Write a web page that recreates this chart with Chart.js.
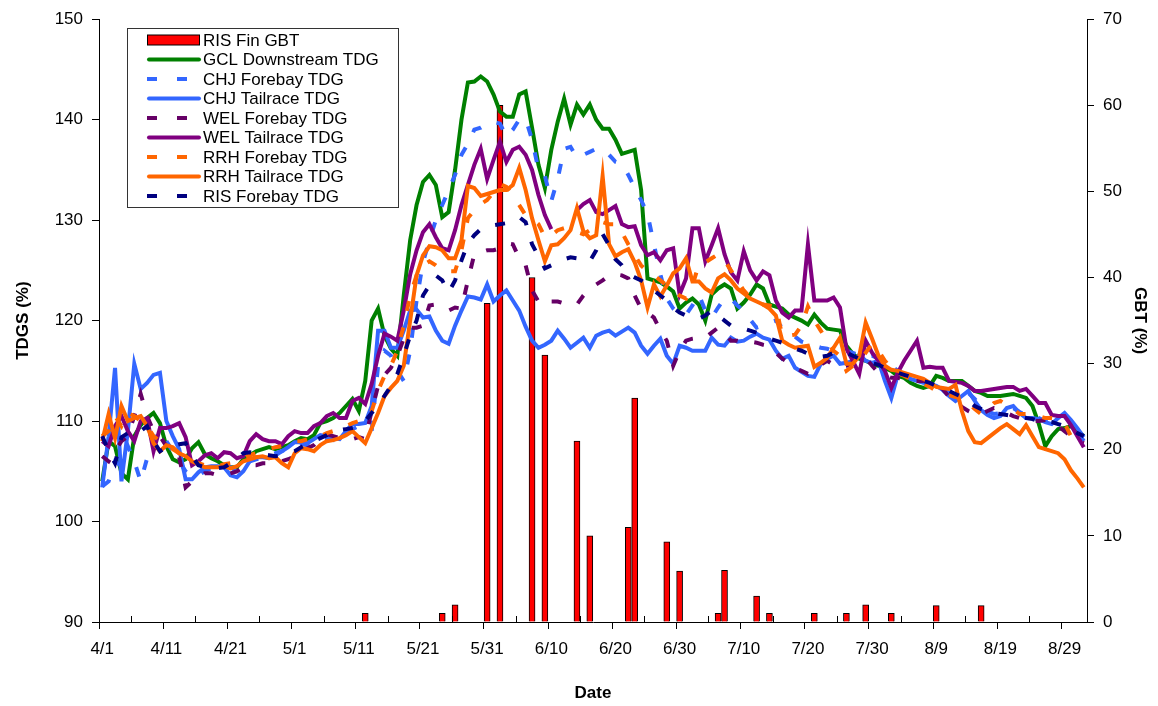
<!DOCTYPE html>
<html>
<head>
<meta charset="utf-8">
<script src="https://cdn.jsdelivr.net/npm/chart.js@4.4.1/dist/chart.umd.min.js"></script>
<style>
  html, body { margin: 0; padding: 0; background: #fff; }
  #wrap { position: relative; width: 1158px; height: 706px; }
</style>
</head>
<body>
<div id="wrap"><canvas id="chart" width="1158" height="706"></canvas></div>
<script>
// daily categories 4/1 .. 9/1
const days = [];
for (let i = 0; i < 154; i++) {
  const d = new Date(Date.UTC(2001, 3, 1 + i));
  days.push((d.getUTCMonth() + 1) + "/" + d.getUTCDate());
}

// RIS fin GBT (right axis)
const gbtDates = ["5/12", "5/24", "5/26", "5/31", "6/2", "6/7", "6/9", "6/14", "6/16", "6/22", "6/23", "6/28",
  "6/30", "7/6", "7/7", "7/12", "7/14", "7/21", "7/26", "7/29", "8/2", "8/9", "8/16"];
const gbtValues = [1, 1, 2, 37, 60, 40, 31, 21, 10, 11, 26, 9.3, 5.9, 1, 6, 3, 1, 1, 1, 2, 1, 1.9, 1.9];

const gclDownstream = [
  104, 108, 107.5, 104.8, 104.2, 108.5, 109.6, 110.3, 110.8, 109.8,
  107.5, 106.2, 105.9, 106.2, 107.3, 107.9, 106.7, 106.3, 106, 105.6,
  105.4, 105.4, 106.2, 106.6, 107, 107.2, 107.4, 107.2, 107.4, 107.6,
  108, 108.3, 108.2, 108.6, 109.8, 110, 110.3, 110.8, 111.5, 112.2,
  111, 114, 120, 121.2, 118.5, 117.2, 116.5, 122.5, 128, 131.5,
  133.8, 134.5, 133.5, 130.3, 130.8, 135, 140, 143.7, 143.8, 144.3,
  143.8, 142.5, 140.8, 140.3, 140.3, 142.5, 142.8, 139.2, 135.5, 133.2,
  137, 139.8, 142.1, 139.5, 141.5, 140.5, 141.5, 140, 139.1, 139.1,
  138, 136.6, 136.8, 137, 133, 124.2, 124, 123.8, 123.4, 122.9,
  121.2, 121.8, 122.2, 121.6, 120, 122.6, 123.2, 123.6, 123.2, 121.2,
  121.8, 122.6, 123.6, 123.2, 121.6, 121.4, 121.2, 120.6, 120.3, 120,
  119.6, 120.6, 119.8, 119.2, 119.1, 119, 117.5, 116.7, 116.2, 116,
  115.7, 115.5, 115.3, 115, 114.5, 114.3, 113.8, 113.5, 113.3, 113.5,
  114.5, 114.3, 114, 114, 114, 113.5, 113, 112.8, 112.5, 112.5,
  112.5, 112.6, 112.7, 112.5, 112.3, 111.5, 109.7, 107.5, 108.5, 109.2,
  109.3, 109.5, 109, 108.5
];

const chjForebay = [
  103.5, 104, 106, 105.5, 107.5, 106, 104, 106.3, 108, 109,
  108, 107, 106, 105, 104.5, 104.6, 105, 105.3, 105.6, 105.5,
  105.4, 105, 105.5, 106, 106.2, 106.3, 106.5, 106.8, 107, 107.3,
  107.5, 107.7, 107.6, 108, 108.3, 108.3, 108.1, 108, 108.6, 109.2,
  109.5, 109.3, 109, 115.5, 117, 116.5, 115, 114, 117, 122,
  125.8, 128, 130, 131.5, 133, 134.5, 136.5, 137.6, 139, 139.2,
  139.6, 139.8, 139.6, 138.3, 139, 140, 140.1, 138, 135, 134.4,
  131.9, 134.1, 137.1, 137.3, 136.2, 136.5, 136.8, 137.1, 137, 136.5,
  135.8, 135.6, 134.5, 133.2, 132, 130.6, 127.6, 124.6, 122.2, 121.2,
  120.6, 120.6, 121.5, 122.6, 121, 120.3, 121.3, 122.2, 122.2, 121.5,
  121, 120.1, 119.3, 119.5, 119.8, 120, 119.3, 118.8, 118.4, 117.9,
  117.7, 117.5, 117.3, 117.2, 117, 117, 117, 116.8, 116.5, 116.3,
  116.5, 116.2, 115.8, 115.5, 115, 114.6, 114.2, 114, 113.9, 113.7,
  113.5, 113.2, 112.8, 112.5, 112.6, 112.8, 112.2, 111.5, 111, 110.7,
  110.8, 111.2, 111.3, 110.9, 110.6, 110.5, 110.3, 110, 110, 110.4,
  110.5, 109.8, 109, 108
];

const chjTailrace = [
  103.4, 108.5, 115.3, 104, 109, 115.7, 113.2, 113.8, 114.6, 114.8,
  110, 108.5, 107.2, 104.2, 104.2, 104.9, 105.4, 105.5, 105.5, 105.4,
  104.6, 104.4, 105, 106, 106.4, 106.4, 106.3, 106.6, 107, 107.4,
  107.9, 107.9, 107.8, 108.2, 108.6, 108.5, 108.3, 108.2, 109, 109.7,
  109.7, 109.8, 111.5, 119, 119, 117.3, 117.3, 119, 121, 121.1,
  120.3, 120.4, 119, 118, 117.7, 119.5, 121, 122.4, 122.3, 122.1,
  123.6, 121.9, 122.5, 123, 122, 121, 119.4, 118, 117.3, 117.6,
  118, 119, 118.2, 117.3, 117.8, 118.3, 117.3, 118.5, 118.8, 119,
  118.5, 118.9, 119.3, 118.8, 117.5, 116.7, 117.5, 118.2, 116.5, 115.7,
  117.5, 117.3, 117, 117, 117, 118.3, 117.6, 117.5, 118.3, 117.9,
  118, 118.4, 118.7, 118.3, 118.1, 117, 116.2, 116.5, 115.3, 114.9,
  114.5, 114.4, 115.7, 116.2, 116.5, 115.7, 115.8, 116, 116.6, 116,
  115.8, 116, 114, 112.3, 114.6, 114.7, 114.2, 114, 113.8, 113.7,
  113.5, 113.1, 112.5, 112, 112.5, 113, 112, 111.1, 110.6, 110.3,
  110.5, 111.3, 111.5, 110.8, 110.3, 110.3, 110.2, 109.9, 109.7, 110.3,
  110.8, 110.1, 109.3, 108.4
];

const welForebay = [
  106.5, 106, 107, 108, 108.5, 110.5, 112.7, 110.5, 109, 108.5,
  107.5, 106.5, 106.4, 103.4, 104, 104.4, 104.8, 104.8, 104.6, 104.6,
  104.8, 105, 105.4, 105.6, 105.6, 105.8, 105.8, 105.9, 106, 106.2,
  106.5, 107, 107.3, 107.6, 108.2, 108.7, 108.5, 108.3, 108.3, 108.2,
  108.4, 108.2, 111, 113.5, 114.6, 115.3, 116.5, 118.2, 119.3, 119.3,
  119.5, 121.5, 121.6, 121.3, 121, 121.3, 121.2, 124, 126.6, 126.8,
  127, 127, 127.2, 127.7, 127.6, 126.2, 125.5, 123, 121.9, 121.5,
  121.9, 121.9, 121.7, 121.6, 121.6, 122.5, 123.2, 123.6, 124, 124.5,
  124.6, 124.5, 124.2, 122.5, 121.2, 120.8, 120.3, 119, 118, 115.5,
  117, 118, 118.2, 118.3, 118.3, 118.8, 119.3, 118.8, 118, 118,
  117.8, 117.9, 117.8, 117.6, 117.5, 116.8, 116.2, 115.8, 115.3, 115,
  114.7, 115, 115.6, 116, 115.6, 115.3, 115.5, 115.8, 116.2, 116.3,
  115.5, 114.8, 114.5, 114.3, 114.3, 114.2, 114, 114, 114, 114,
  113.8, 113.2, 112.4, 112, 111.4, 111, 110.7, 110.7, 111, 111.3,
  111.2, 110.8, 110.5, 110.3, 110.2, 110, 110, 110.1, 110, 109.5,
  109, 108.5, 108.1, 107.8
];

const welTailrace = [
  108, 107.5, 109.5, 110.5, 109, 108, 110, 110.3, 107, 109.3,
  109.3, 109.5, 109.8, 108.4, 105.6, 106, 106.6, 106.8, 106.3, 106.9,
  106.8, 106.3, 106.5, 108, 108.7, 108.2, 108, 108, 107.7, 108.5,
  109, 108.8, 108.8, 109.5, 109.8, 110.5, 110.8, 110.3, 110.3, 112,
  112.3, 111.7, 113.7, 116.5, 118.7, 118.4, 118, 121, 124.6, 127,
  128.8, 129.6, 128.3, 127.2, 127, 129, 131.5, 133.5, 135.5, 137.1,
  134.1, 136, 137.8, 135.8, 137, 137.3, 136.5, 135, 132.5, 130.5,
  129.1, null, null, null, 131, 131.6, 132, 130.8, 130.6, 131,
  131.4, 129.6, 129.3, 129.4, 127.5, 126.5, 126.8, 126, 127, 127.2,
  122.6, 124.2, 129.2, 129.2, 125.9, 127.5, 129.2, 126.6, 124.8, 124,
  126.9, 125, 124, 124.9, 124.5, 122, 120.8, 120.3, 121, 121,
  127.6, 122, 122, 122, 122.3, 121.3, 117.2, 116, 114.7, 118,
  116.8, 116, 115, 113.3, 114.8, 116, 117, 118, 115.3, 115.4,
  115.3, 115.3, 114, 113.9, 113.8, 113.5, 113, 113, 113.1, 113.2,
  113.3, 113.4, 113.4, 113, 113.2, 112.5, 111.8, 111.8, 110.6, 110.5,
  110.5, 109.6, 108.5, 107.4
];

const rrhForebay = [
  108.5, 109, 110.5, 109.5, 110.8, 110.5, 110, 109.5, 108.5, 108,
  107.8, 107.2, 106.8, 106.4, 106, 105.8, 105.6, 105.5, 105.5, 105.7,
  105.8, 106, 106.3, 106.6, 106.8, 107, 107.2, 107.4, 107.5, 107.8,
  108, 108, 108.2, 108.3, 108.5, 108.8, 109, 109.2, 109.5, 109.8,
  110, 110.2, 111, 113, 114.5, 115.5, 117, 119.5, 122.5, 124.5,
  125.5, 125.9, 125.5, 125, 124.9, 124.9, 127, 130.2, 131, 131.6,
  132, 132.8, 133.6, 133.3, 132.5, 131.5, 130.5, 130.2, 129.6, 128.3,
  128.5, 129, 129.2, 129, 128.8, 128.6, 129, 129.5, 129.8, 129.6,
  129.6, 128.8, 127.6, 126.5, 125.5, 124.9, 124.5, 124, 123.5, 123,
  122.5, 122.2, 123.5, 125.6, 125.8, 126.2, 126.6, 126, 125, 124,
  123, 122.3, 121.9, 121.6, 121.5, 121.4, 118.5, 118.5, 118.6, 119.5,
  121.4, 120, 119, 118, 117, 116.5, 115, 115.5, 116, 116.8,
  117.7, 117, 116, 115.3, 114.8, 114.5, 114.2, 114, 113.7, 113.4,
  113, 112.8, 112.6, 112.4, 112.3, 111.8, 111.2, 110.7, 111.2, 111.8,
  112, 111.6, 111.2, 110.7, 110.7, 110.6, 110.5, 110.3, 110.3, 110.2,
  109.8, 108.5, 108.3, 108
];

const rrhTailrace = [
  108, 110.7, 108.3, 111.5, 110, 110.3, 110.5, 109.5, 107.8, 107,
  107.6, 107.4, 106.8, 106.5, 106, 105.7, 105.4, 105.4, 105.4, 105.5,
  105.3, 105.5, 106, 106.2, 106.4, 106.5, 106.3, 106.4, 105.8, 105.4,
  106.8, 107.3, 107.2, 107, 107.6, 108, 108.1, 108.3, 108.6, 109,
  108.4, 107.8, 109.3, 110.8, 112.5, 113.3, 114, 115.5, 120, 124.5,
  126.5, 127.4, 127.3, 127, 126.2, 126.2, 128, 133.4, 133.2, 132.4,
  132.6, 132.8, 133, 133, 133.5, 135.2, 133, 130.2, 128, 125.9,
  127.5, 127.6, 128.2, 129, 131.2, 128.9, 128.2, 128.5, 134.4, 127.6,
  126.4, 126.8, 127.1, 125.8, 124, 121.3, 123.6, 122.4, 123.5, 124.7,
  125.2, 126.2, 123.9, 123.9, 123.2, 122.8, 124.2, 124.6, 124, 123.2,
  122.7, 122.2, 121.9, 121.6, 121.2, 120.5, 118, 117.6, 117.3, 117.4,
  117.5, 115.4, 115.8, 116.3, 117.3, 118.3, 115.7, 115.7, 116.5, 119.8,
  118.2, 116.5, 115.5, 115.1, 115, 114.8, 114.6, 114.4, 114.2, 113.8,
  113.4, 113.3, 113.2, 113.6, 111, 109, 107.9, 107.8, 108.3, 108.8,
  109.3, 109.7, 109.2, 108.7, 109.6, 108.5, 107.4, 107.2, 107, 106.8,
  106.2, 105.1, 104.3, 103.4
];

const risForebay = [
  108.5, 107, 105.8, 108.4, 108.8, 109.2, 109, 109.5, 108, 107,
  107.4, 107.5, 107.7, 107.8, 106.5, 105.6, 105.4, 105.3, 105.3, 105.4,
  105.8, 106.3, 106.8, 106.9, 106.8, 106.7, 106.6, 106.5, 106.6, 106.8,
  107, 107.4, 107.7, 108, 108.3, 108.6, 109, 109.1, 109.2, 109.3,
  109.5, 110, 110.8, 111.6, 112.5, 113.5, 114.7, 116.5, 118.5, 120,
  122.5, 123.5, 124.5, 124, 122.8, 124, 126, 127.7, 128.5, 129.1,
  129.3, 129.5, 129.6, 129.7, 130, 130.3, 129.8, 127.6, 126.4, 125.2,
  125.5, 125.8, 126.1, 126.3, 126.2, 126, 125.9, 127, 128.6, 127.5,
  126.1, 125.5, 124.6, 124.3, 124, 123.6, 123, 122.5, 122, 121.3,
  120.8, 120.5, 120.3, 120.2, 120.5, 121, 120.5, 120, 119.5, 119.3,
  119.2, 119, 118.8, 118.5, 118.2, 118, 117.8, 117.5, 117.2, 117,
  116.7, 116.5, 116.4, 116.5, 116.8, 116.9, 116.8, 116.5, 116.2, 116,
  115.8, 115.6, 115.3, 115, 114.8, 114.6, 114.4, 114.2, 114, 113.8,
  113.5, 113.2, 113, 112.7, 112.4, 112, 111.5, 111.2, 111, 110.8,
  110.7, 110.6, 110.5, 110.4, 110.3, 110.2, 110, 110, 109.9, 109.7,
  109.5, 109.2, 108.8, 108.5
];

const FONT = "'Liberation Sans', Arial, sans-serif";
const dash = [10, 17];

function lineSet(label, data, color, dashed, order) {
  return {
    type: "line",
    label: label,
    data: data,
    borderColor: color,
    backgroundColor: color,
    borderWidth: 4,
    borderDash: dashed ? dash : [],
    borderCapStyle: "butt",
    pointRadius: 0,
    tension: 0,
    spanGaps: false,
    yAxisID: "y",
    order: order,
  };
}

// legend box drawn inside the plot, like the spreadsheet legend
const legendBox = {
  id: "legendBox",
  afterDatasetsDraw(chart) {
    const ctx = chart.ctx;
    const x0 = 127.5, y0 = 28.5, w = 271, h = 179;
    ctx.save();
    ctx.fillStyle = "#fff";
    ctx.fillRect(x0, y0, w, h);
    ctx.strokeStyle = "#333";
    ctx.lineWidth = 1;
    ctx.strokeRect(x0, y0, w, h);
    ctx.font = "17px " + FONT;
    ctx.textBaseline = "middle";
    chart.data.datasets.forEach((ds, k) => {
      const cy = 40 + k * 19.5;
      if (ds.type === "bar") {
        ctx.fillStyle = ds.backgroundColor;
        ctx.fillRect(147.5, cy - 5, 52, 10);
        ctx.strokeStyle = "#000";
        ctx.lineWidth = 1;
        ctx.strokeRect(147.5, cy - 5, 52, 10);
      } else {
        ctx.strokeStyle = ds.borderColor;
        ctx.lineWidth = 4;
        ctx.beginPath();
        if (ds.borderDash.length) {
          ctx.lineCap = "butt";
          ctx.setLineDash([10, 20]);
          ctx.moveTo(147, cy);
          ctx.lineTo(190, cy);
        } else {
          ctx.lineCap = "round";
          ctx.setLineDash([]);
          ctx.moveTo(149, cy);
          ctx.lineTo(199, cy);
        }
        ctx.stroke();
        ctx.setLineDash([]);
      }
      ctx.fillStyle = "#000";
      ctx.fillText(ds.label, 203, cy + 1);
    });
    ctx.restore();
  },
};

// short minor tick marks pointing up into the plot, halfway between labels
const minorTicks = {
  id: "minorTicks",
  afterDraw(chart) {
    const xs = chart.scales.x;
    const bottom = chart.chartArea.bottom;
    const ctx = chart.ctx;
    ctx.save();
    ctx.strokeStyle = "#000";
    ctx.lineWidth = 1;
    for (let i = 5; i < days.length; i += 10) {
      const px = Math.round((xs.getPixelForValue(i - 1) + xs.getPixelForValue(i)) / 2) + 0.5;
      ctx.beginPath();
      ctx.moveTo(px, bottom);
      ctx.lineTo(px, bottom - 6);
      ctx.stroke();
    }
    ctx.restore();
  },
};

const tickFont = { family: FONT, size: 17 };
const titleFont = { family: FONT, size: 17, weight: "bold" };

new Chart(document.getElementById("chart"), {
  data: {
    labels: days,
    datasets: [
      {
        type: "bar",
        label: "RIS Fin GBT",
        data: gbtDates.map((d, k) => ({ x: d, y: gbtValues[k] })),
        backgroundColor: "#FF0000",
        borderColor: "#000",
        borderWidth: 1,
        barThickness: 6,
        yAxisID: "y2",
        order: 20,
      },
      lineSet("GCL Downstream TDG", gclDownstream, "#008000", false, 8),
      lineSet("CHJ Forebay TDG", chjForebay, "#3366FF", true, 7),
      lineSet("CHJ Tailrace TDG", chjTailrace, "#3366FF", false, 6),
      lineSet("WEL Forebay TDG", welForebay, "#660066", true, 5),
      lineSet("WEL Tailrace TDG", welTailrace, "#800080", false, 4),
      lineSet("RRH Forebay TDG", rrhForebay, "#FF6600", true, 3),
      lineSet("RRH Tailrace TDG", rrhTailrace, "#FF6600", false, 2),
      lineSet("RIS Forebay TDG", risForebay, "#000080", true, 1),
    ],
  },
  options: {
    responsive: false,
    animation: false,
    devicePixelRatio: 1,
    layout: { padding: { top: 17, left: 0, right: 0, bottom: 0 } },
    plugins: {
      legend: { display: false },
      tooltip: { enabled: false },
    },
    scales: {
      x: {
        type: "category",
        offset: true,
        ticks: {
          autoSkip: false,
          maxRotation: 0,
          color: "#000",
          font: tickFont,
          padding: 10,
          callback: function (value, index) {
            return index % 10 === 0 ? this.getLabelForValue(value) : "";
          },
        },
        grid: {
          offset: true,
          drawOnChartArea: false,
          tickLength: 7,
          color: (c) => (c.index % 10 === 0 ? "#000" : "rgba(0,0,0,0)"),
        },
        border: { color: "#000", width: 1 },
        title: { display: true, text: "Date", color: "#000", font: titleFont, padding: { top: 2, bottom: 2 } },
        afterFit: (s) => { s.height = 84; },
      },
      y: {
        position: "left",
        min: 90,
        max: 150,
        ticks: { stepSize: 10, color: "#000", font: tickFont, padding: 9 },
        grid: { drawOnChartArea: false, tickLength: 7, color: "#000" },
        border: { color: "#000", width: 1 },
        title: { display: true, text: "TDGS (%)", color: "#000", font: titleFont, padding: { top: 13, bottom: 0 } },
        afterFit: (s) => { s.width = 99; },
      },
      y2: {
        position: "right",
        min: 0,
        max: 70,
        ticks: { stepSize: 10, color: "#000", font: tickFont, padding: 9 },
        grid: { drawOnChartArea: false, tickLength: 7, color: "#000" },
        border: { color: "#000", width: 1 },
        title: { display: true, text: "GBT (%)", color: "#000", font: titleFont, padding: { top: 8, bottom: 0 } },
        afterFit: (s) => { s.width = 71; },
      },
    },
  },
  plugins: [legendBox, minorTicks],
});
</script>
</body>
</html>
